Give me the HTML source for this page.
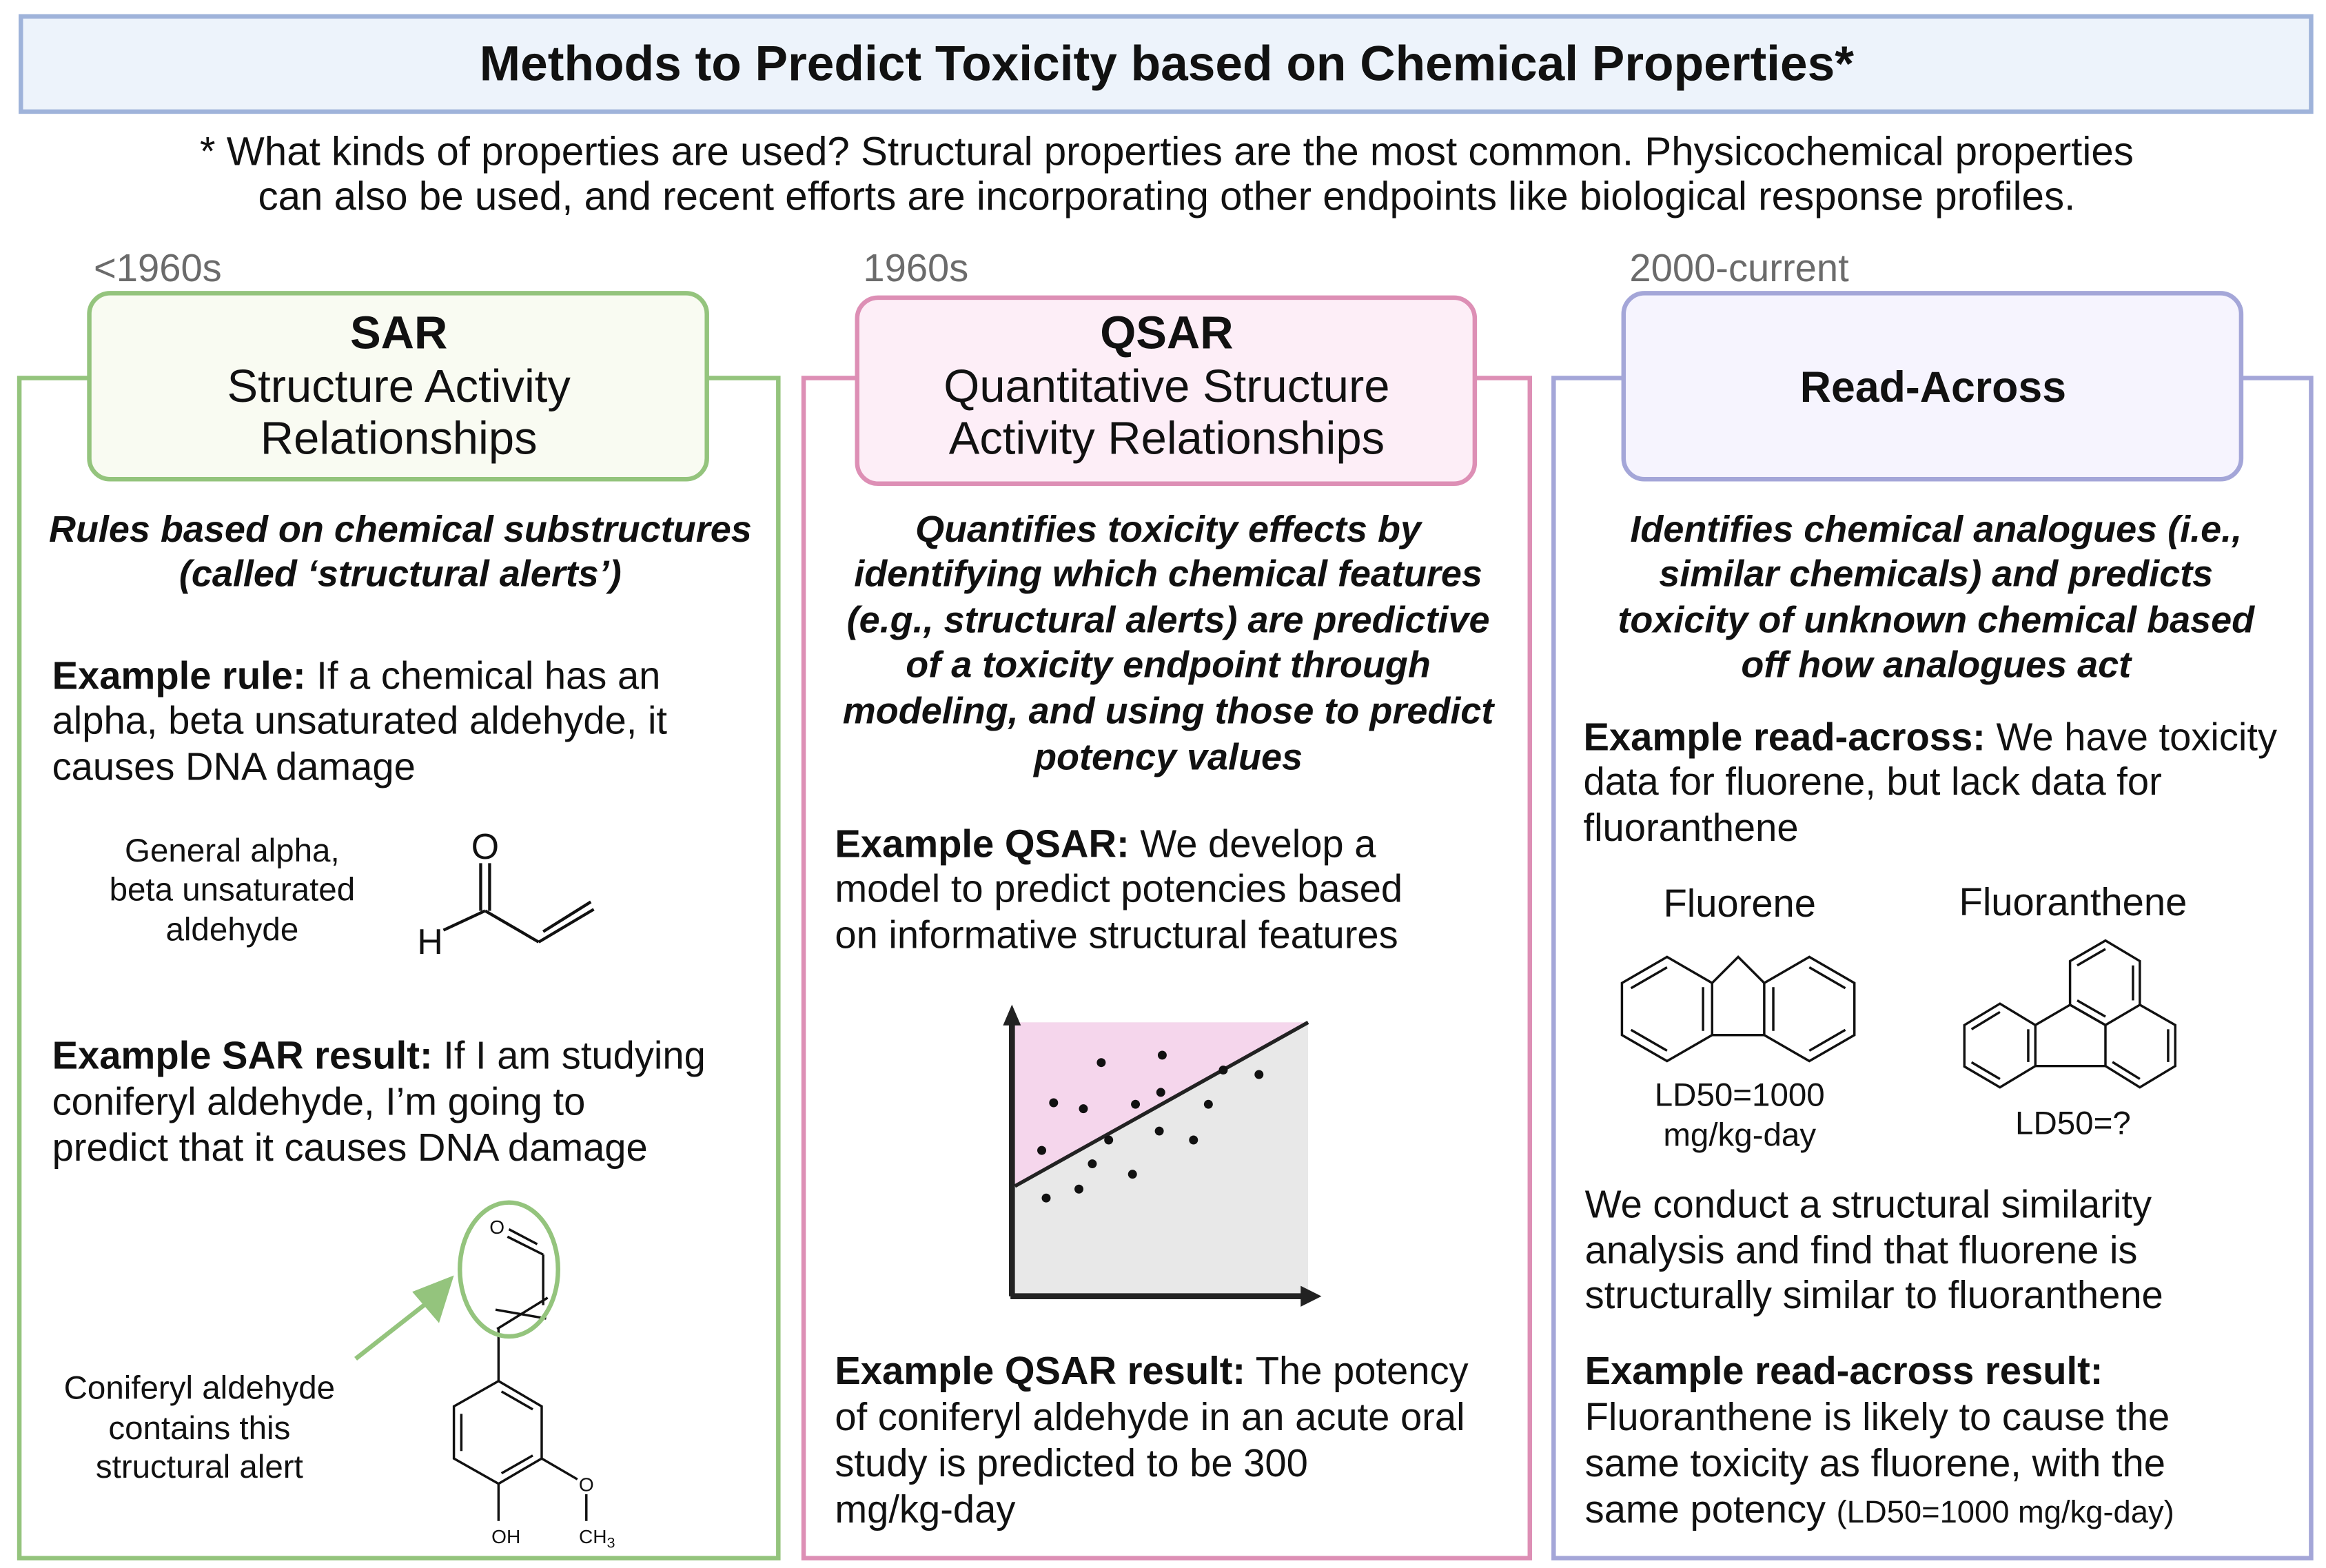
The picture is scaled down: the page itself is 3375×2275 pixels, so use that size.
<!DOCTYPE html>
<html><head><meta charset="utf-8"><style>
html,body{margin:0;padding:0;background:#fff;}
svg{display:block;}
text{font-family:"Liberation Sans",Arial,sans-serif;fill:#111;}
.b{font-size:26px;}
.bi{font-size:25px;font-weight:bold;font-style:italic;}
.h{font-size:31px;}
.s{font-size:22px;}
.g{font-size:26px;fill:#6b6b6b;}
</style></head><body>
<svg width="3375" height="2275" viewBox="0 0 1563 1053.6" preserveAspectRatio="none" xmlns="http://www.w3.org/2000/svg">
<rect x="0" y="0" width="1563" height="1054" fill="#fff"/>
<!-- title -->
<rect x="14" y="11" width="1539" height="64" fill="#edf3fb" stroke="#9fb3da" stroke-width="3"/>
<text x="784" y="54" text-anchor="middle" style="font-size:33px;font-weight:bold">Methods to Predict Toxicity based on Chemical Properties*</text>
<text x="784" y="111" text-anchor="middle" class="b" style="font-size:27px">* What kinds of properties are used? Structural properties are the most common. Physicochemical properties</text>
<text x="784" y="141" text-anchor="middle" class="b" style="font-size:27px">can also be used, and recent efforts are incorporating other endpoints like biological response profiles.</text>
<text x="63" y="189" class="g">&lt;1960s</text>
<text x="580" y="189" class="g">1960s</text>
<text x="1095" y="189" class="g">2000-current</text>

<!-- columns -->
<rect x="13" y="254" width="510" height="793" fill="none" stroke="#94c47d" stroke-width="3"/>
<rect x="540" y="254" width="488" height="793" fill="none" stroke="#dd8fb5" stroke-width="3"/>
<rect x="1044" y="254" width="509" height="793" fill="none" stroke="#a4a6d8" stroke-width="3"/>
<rect x="60" y="197" width="415" height="125" rx="14" fill="#f9fbf2" stroke="#94c47d" stroke-width="3"/>
<rect x="576" y="200" width="415" height="125" rx="14" fill="#fdeef7" stroke="#dd8fb5" stroke-width="3"/>
<rect x="1091" y="197" width="415" height="125" rx="14" fill="#f6f4fe" stroke="#a4a6d8" stroke-width="3"/>
<text x="268" y="234" text-anchor="middle" class="h" font-weight="bold">SAR</text>
<text x="268" y="270" text-anchor="middle" class="h">Structure Activity</text>
<text x="268" y="305" text-anchor="middle" class="h">Relationships</text>
<text x="784" y="234" text-anchor="middle" class="h" font-weight="bold">QSAR</text>
<text x="784" y="270" text-anchor="middle" class="h">Quantitative Structure</text>
<text x="784" y="305" text-anchor="middle" class="h">Activity Relationships</text>
<text x="1299" y="270" text-anchor="middle" class="h" font-weight="bold" style="font-size:29px">Read-Across</text>

<!-- SAR column -->
<text x="269" y="364" text-anchor="middle" class="bi">Rules based on chemical substructures</text>
<text x="269" y="394" text-anchor="middle" class="bi">(called ‘structural alerts’)</text>
<text x="35" y="463" class="b"><tspan font-weight="bold">Example rule:</tspan> If a chemical has an</text>
<text x="35" y="493" class="b">alpha, beta unsaturated aldehyde, it</text>
<text x="35" y="524" class="b">causes DNA damage</text>
<text x="156" y="579" text-anchor="middle" class="s">General alpha,</text>
<text x="156" y="605" text-anchor="middle" class="s">beta unsaturated</text>
<text x="156" y="632" text-anchor="middle" class="s">aldehyde</text>
<g stroke="#111" stroke-width="2" fill="none">
<line x1="323" y1="580" x2="323" y2="612"/><line x1="329" y1="580" x2="329" y2="612"/>
<line x1="298" y1="625" x2="326" y2="612"/>
<line x1="326" y1="612" x2="362" y2="633"/>
<line x1="362" y1="633" x2="399" y2="611"/>
<line x1="365" y1="626" x2="397" y2="606"/>
</g>
<text x="326" y="577" text-anchor="middle" style="font-size:24px">O</text>
<text x="289" y="641" text-anchor="middle" style="font-size:24px">H</text>

<text x="35" y="718" class="b"><tspan font-weight="bold">Example SAR result:</tspan> If I am studying</text>
<text x="35" y="749" class="b">coniferyl aldehyde, I’m going to</text>
<text x="35" y="780" class="b">predict that it causes DNA damage</text>
<text x="134" y="940" text-anchor="middle" class="s">Coniferyl aldehyde</text>
<text x="134" y="967" text-anchor="middle" class="s">contains this</text>
<text x="134" y="993" text-anchor="middle" class="s">structural alert</text>
<g stroke="#111" stroke-width="1.6" fill="none">
<line x1="341" y1="831" x2="365" y2="843"/><line x1="342" y1="826" x2="361" y2="836"/>
<line x1="365" y1="843" x2="365" y2="877"/>
<line x1="368" y1="872" x2="334" y2="893"/><line x1="367" y1="886" x2="333" y2="880"/>
<line x1="335" y1="893" x2="335" y2="928"/>
<polygon points="335,928 364,945 364,980 335,997 305,980 305,945"/>
<line x1="310" y1="950" x2="310" y2="975"/>
<line x1="337" y1="935" x2="358" y2="947"/>
<line x1="337" y1="990" x2="358" y2="978"/>
<line x1="335" y1="997" x2="335" y2="1022"/>
<line x1="364" y1="980" x2="388" y2="994"/>
<line x1="394" y1="1004" x2="394" y2="1022"/>
</g>
<text x="334" y="829" text-anchor="middle" style="font-size:13px">O</text>
<text x="394" y="1002" text-anchor="middle" style="font-size:13px">O</text>
<text x="340" y="1037" text-anchor="middle" style="font-size:13px">OH</text>
<text x="389" y="1037" style="font-size:13px">CH<tspan font-size="10" dy="3">3</tspan></text>
<ellipse cx="342" cy="853" rx="33" ry="45" fill="none" stroke="#94c47d" stroke-width="3"/>
<line x1="239" y1="913" x2="290" y2="873" stroke="#94c47d" stroke-width="3"/>
<polygon points="305,857 277,868 295,889" fill="#94c47d"/>

<!-- QSAR column -->
<text x="785" y="364" text-anchor="middle" class="bi">Quantifies toxicity effects by</text>
<text x="785" y="394" text-anchor="middle" class="bi">identifying which chemical features</text>
<text x="785" y="425" text-anchor="middle" class="bi">(e.g., structural alerts) are predictive</text>
<text x="785" y="455" text-anchor="middle" class="bi">of a toxicity endpoint through</text>
<text x="785" y="486" text-anchor="middle" class="bi">modeling, and using those to predict</text>
<text x="785" y="517" text-anchor="middle" class="bi">potency values</text>
<text x="561" y="576" class="b"><tspan font-weight="bold">Example QSAR:</tspan> We develop a</text>
<text x="561" y="606" class="b">model to predict potencies based</text>
<text x="561" y="637" class="b">on informative structural features</text>
<polygon points="682,687 879,687 879,869 682,869" fill="#e8e8e8"/>
<polygon points="682,687 879,687 682,797" fill="#f5d6ec"/>
<line x1="682" y1="797" x2="879" y2="687" stroke="#222" stroke-width="2.5"/>
<line x1="680" y1="686" x2="680" y2="871" stroke="#222" stroke-width="4"/>
<line x1="679" y1="871" x2="876" y2="871" stroke="#222" stroke-width="4"/>
<polygon points="680,675 674,689 686,689" fill="#222"/>
<polygon points="888,871 874,864 874,878" fill="#222"/>
<g fill="#111">
<circle cx="740" cy="714" r="3"/><circle cx="781" cy="709" r="3"/><circle cx="708" cy="741" r="3"/>
<circle cx="728" cy="745" r="3"/><circle cx="763" cy="742" r="3"/><circle cx="780" cy="734" r="3"/>
<circle cx="822" cy="719" r="3"/><circle cx="846" cy="722" r="3"/><circle cx="812" cy="742" r="3"/>
<circle cx="700" cy="773" r="3"/><circle cx="745" cy="766" r="3"/><circle cx="734" cy="782" r="3"/>
<circle cx="779" cy="760" r="3"/><circle cx="802" cy="766" r="3"/><circle cx="761" cy="789" r="3"/>
<circle cx="725" cy="799" r="3"/><circle cx="703" cy="805" r="3"/>
</g>
<text x="561" y="930" class="b"><tspan font-weight="bold">Example QSAR result:</tspan> The potency</text>
<text x="561" y="961" class="b">of coniferyl aldehyde in an acute oral</text>
<text x="561" y="992" class="b">study is predicted to be 300</text>
<text x="561" y="1023" class="b">mg/kg-day</text>

<!-- Read-across column -->
<text x="1301" y="364" text-anchor="middle" class="bi">Identifies chemical analogues (i.e.,</text>
<text x="1301" y="394" text-anchor="middle" class="bi">similar chemicals) and predicts</text>
<text x="1301" y="425" text-anchor="middle" class="bi">toxicity of unknown chemical based</text>
<text x="1301" y="455" text-anchor="middle" class="bi">off how analogues act</text>
<text x="1064" y="504" class="b"><tspan font-weight="bold">Example read-across:</tspan> We have toxicity</text>
<text x="1064" y="534" class="b">data for fluorene, but lack data for</text>
<text x="1064" y="565" class="b">fluoranthene</text>
<text x="1169" y="616" text-anchor="middle" class="b">Fluorene</text>
<text x="1393" y="615" text-anchor="middle" class="b">Fluoranthene</text>
<g stroke="#111" stroke-width="1.6" fill="none">
<polygon points="1120.2,643 1150.5,660.5 1150.5,695.5 1120.2,713 1089.9,695.5 1089.9,660.5"/>
<polygon points="1215.8,643 1246.1,660.5 1246.1,695.5 1215.8,713 1185.5,695.5 1185.5,660.5"/>
<polyline points="1150.5,660.5 1168,643 1185.5,660.5"/>
<line x1="1150.5" y1="695.5" x2="1185.5" y2="695.5"/>
<line x1="1096" y1="664" x2="1120.2" y2="650"/>
<line x1="1144.4" y1="663.3" x2="1144.4" y2="692.7"/>
<line x1="1096" y1="692" x2="1120.2" y2="706"/>
<line x1="1215.8" y1="650" x2="1240" y2="664"/>
<line x1="1191.6" y1="663.3" x2="1191.6" y2="692.7"/>
<line x1="1240" y1="692" x2="1215.8" y2="706"/>
<!-- fluoranthene -->
<polygon points="1343.9,674.4 1367.7,688.8 1367.7,716.3 1343.9,730.6 1320,716.6 1320,688.8"/>
<polyline points="1367.7,688.8 1391,675.2 1414.8,688.8 1414.8,716.3 1367.7,716.3"/>
<polygon points="1391,675.2 1391,645.8 1414.8,632 1437.9,645.8 1437.9,675.2 1414.8,688.8"/>
<polyline points="1437.9,675.2 1461.7,688.8 1461.7,716.3 1437.9,730.6 1414.8,716.3"/>
<line x1="1324.8" y1="691.6" x2="1343.9" y2="680"/>
<line x1="1362.9" y1="691.6" x2="1362.9" y2="713.6"/>
<line x1="1324.8" y1="713.8" x2="1343.9" y2="725"/>
<line x1="1395.8" y1="648.7" x2="1414.8" y2="637.7"/>
<line x1="1433.3" y1="648.7" x2="1433.3" y2="672.2"/>
<line x1="1395.8" y1="672.2" x2="1414.8" y2="683.1"/>
<line x1="1456.9" y1="691.6" x2="1456.9" y2="713.6"/>
<line x1="1419.5" y1="713.6" x2="1437.9" y2="725"/>
</g>
<text x="1169" y="743" text-anchor="middle" class="s">LD50=1000</text>
<text x="1169" y="770" text-anchor="middle" class="s">mg/kg-day</text>
<text x="1393" y="762" text-anchor="middle" class="s">LD50=?</text>
<text x="1065" y="818" class="b">We conduct a structural similarity</text>
<text x="1065" y="849" class="b">analysis and find that fluorene is</text>
<text x="1065" y="879" class="b">structurally similar to fluoranthene</text>
<text x="1065" y="930" class="b" font-weight="bold">Example read-across result:</text>
<text x="1065" y="961" class="b">Fluoranthene is likely to cause the</text>
<text x="1065" y="992" class="b">same toxicity as fluorene, with the</text>
<text x="1065" y="1023" class="b">same potency <tspan style="font-size:21px">(LD50=1000 mg/kg-day)</tspan></text>
</svg>
</body></html>
